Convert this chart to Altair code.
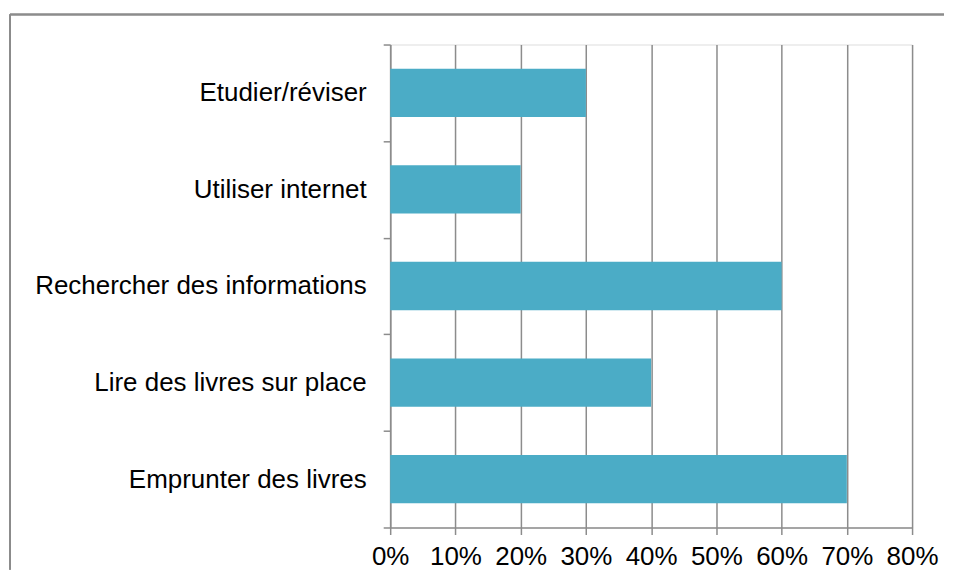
import altair as alt
import pandas as pd

categories = ["Etudier/réviser", "Utiliser internet", "Rechercher des informations",
              "Lire des livres sur place", "Emprunter des livres"]
values = [0.30, 0.20, 0.60, 0.40, 0.70]
x_ticks = [0, 0.1, 0.2, 0.3, 0.4, 0.5, 0.6, 0.7, 0.8]

df = pd.DataFrame({"cat": categories, "val": values})

W, H = 523, 484
FONT = "Liberation Sans"
GREY = "#8c8c8c"

bars = alt.Chart(df).mark_bar(color="#4BACC6", height=alt.RelativeBandSize(0.5)).encode(
    x=alt.X("val:Q",
            scale=alt.Scale(domain=[0, 0.8], nice=False),
            axis=alt.Axis(values=x_ticks, format=".0%", title=None,
                          grid=True, gridColor=GREY, gridWidth=1.5,
                          domainColor=GREY, domainWidth=1.5,
                          tickColor=GREY, tickWidth=1.5, tickSize=7,
                          labelFont=FONT, labelFontSize=26, labelColor="#000000",
                          labelPadding=9, labelFlush=False, labelOverlap=False)),
    y=alt.Y("cat:N", sort=categories,
            scale=alt.Scale(paddingInner=0, paddingOuter=0),
            axis=alt.Axis(title=None, grid=False, tickBand="extent",
                          domainColor=GREY, domainWidth=1.5,
                          tickColor=GREY, tickWidth=1.5, tickSize=7,
                          labelFont=FONT, labelFontSize=26, labelColor="#000000",
                          labelPadding=17, labelLimit=500)),
)

top_edge = alt.Chart(df).mark_rule(color=GREY, strokeWidth=1.5).encode(
    x=alt.value(-381), x2=alt.value(W + 32), y=alt.value(-30),
)
left_edge = alt.Chart(df).mark_rule(color=GREY, strokeWidth=1.5).encode(
    x=alt.value(-381), y=alt.value(-30), y2=alt.value(H + 42),
)

chart = alt.layer(top_edge, left_edge, bars).properties(
    width=W, height=H,
    padding={"left": 1, "top": 5, "right": 0, "bottom": 0},
).configure_view(stroke=None).configure(background="white")

chart.save("out.html", embed_options={"renderer": "svg", "actions": False})
